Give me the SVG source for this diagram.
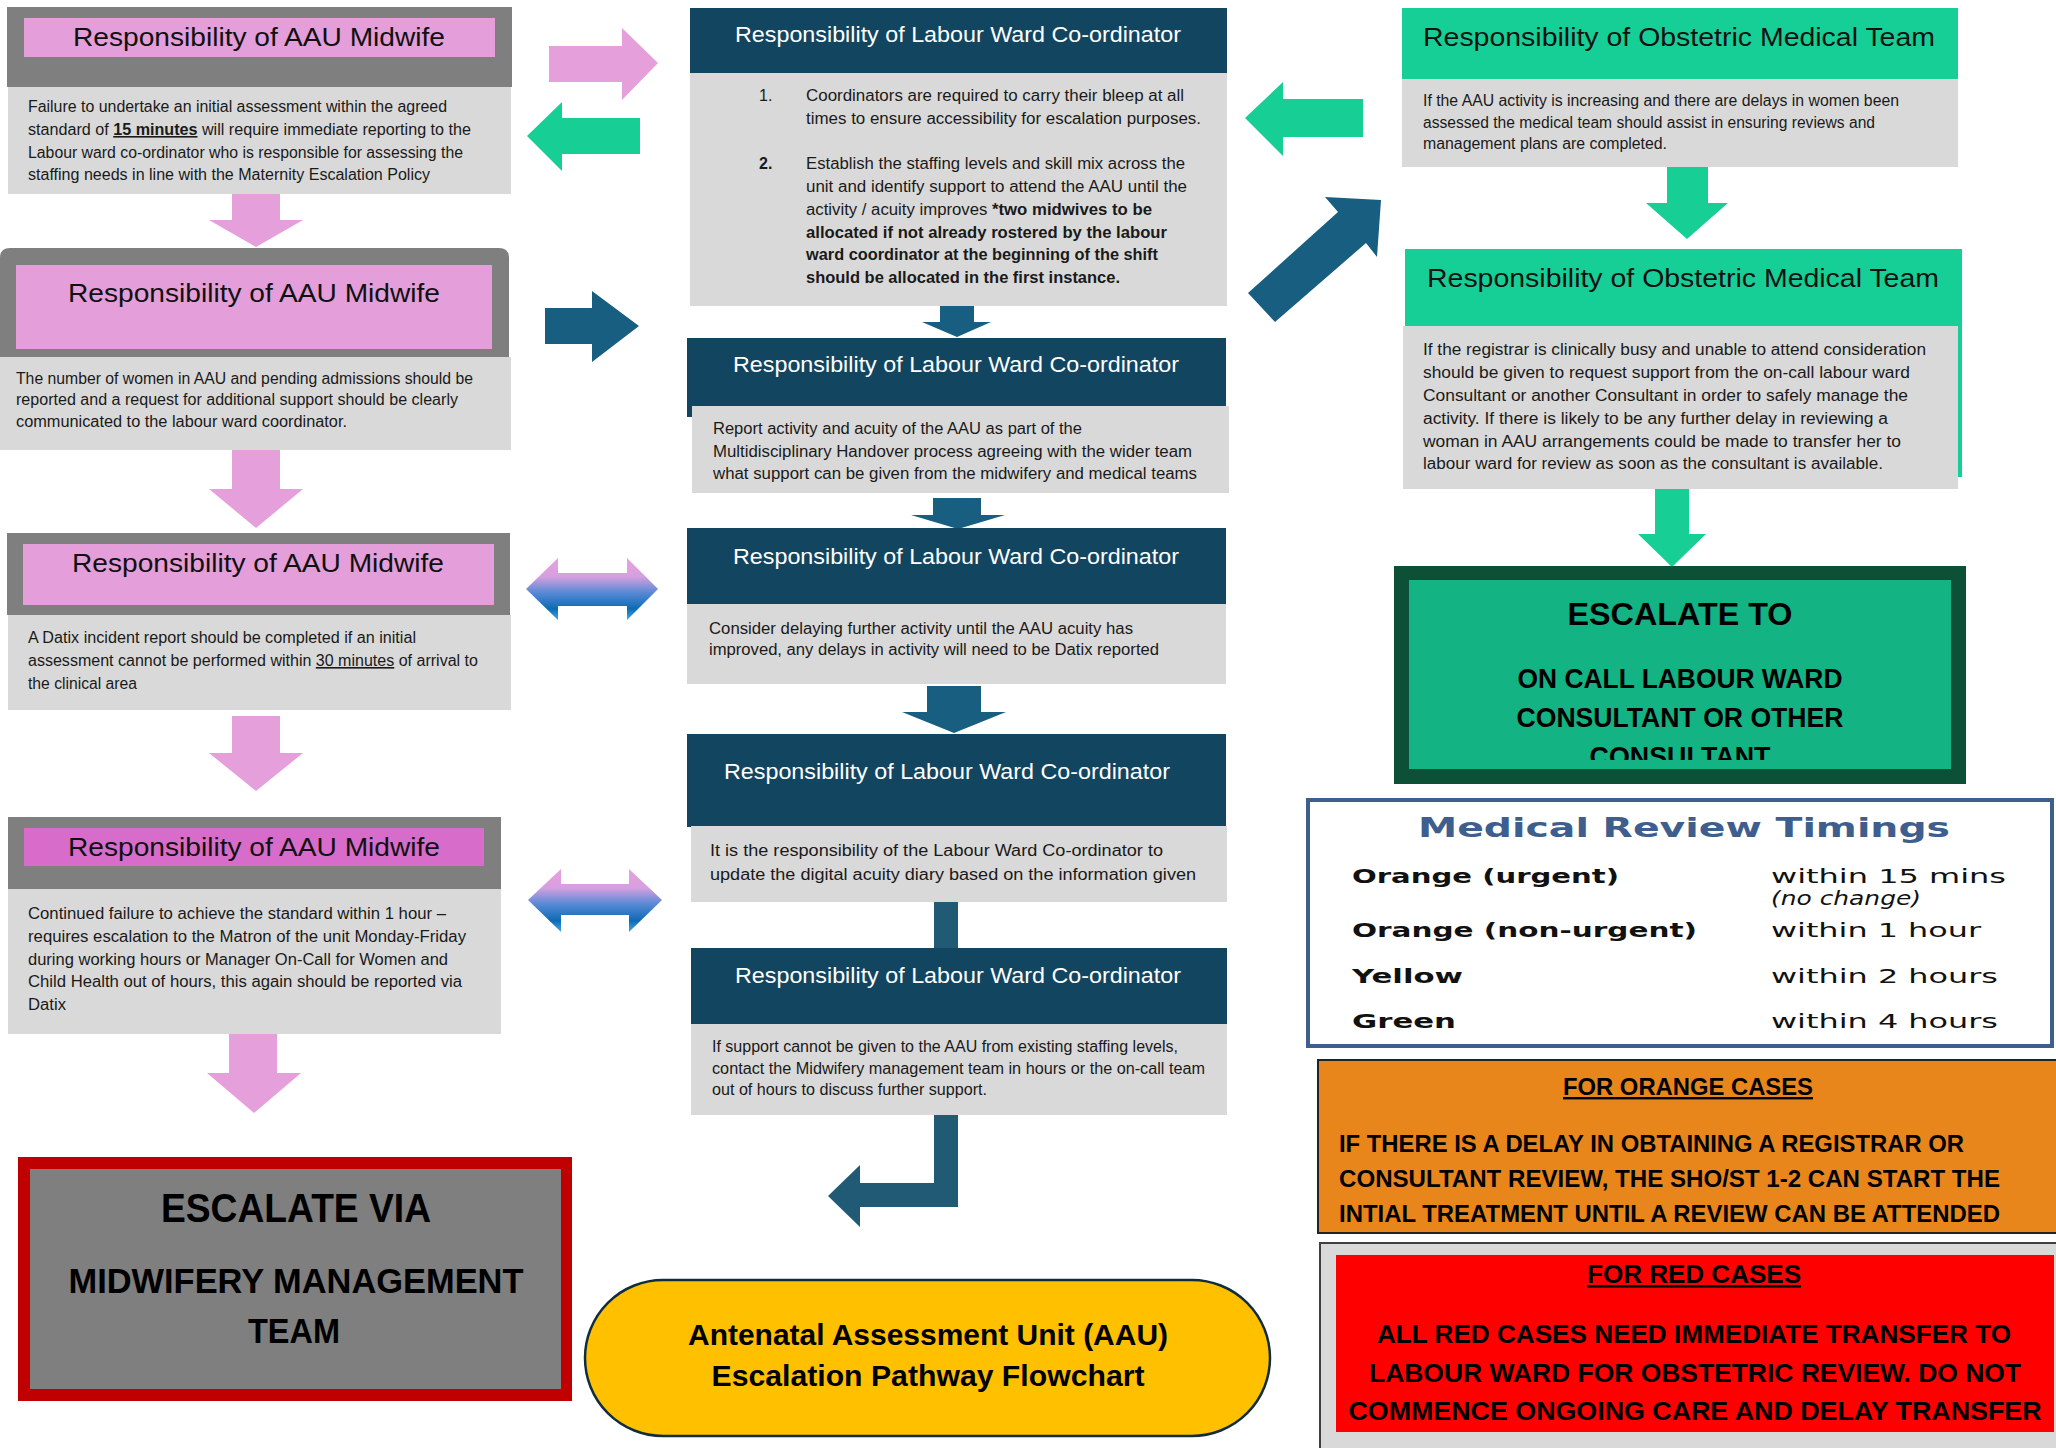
<svg xmlns="http://www.w3.org/2000/svg" width="2056" height="1448" viewBox="0 0 2056 1448">
<style>
.hdrgray{fill:#7f7f7f}
.pink{fill:#e49ed9}
.pink2{fill:#d86cca}
.body{fill:#d9d9d9}
.navy{fill:#12455f}
.obg{fill:#16cf96}
.tt{font-family:"Liberation Sans",Arial,sans-serif;font-size:26px;fill:#111}
.tm{font-family:"Liberation Sans",Arial,sans-serif;font-size:22px;fill:#fff}
.bx{font-family:"Liberation Sans",Arial,sans-serif;font-size:16px;fill:#1a1a1a}
.bd{font-weight:700}
.ul{text-decoration:underline}
.cap{font-family:"Liberation Sans",Arial,sans-serif;font-weight:700;fill:#000}
.mr{font-family:"DejaVu Sans","Liberation Sans",sans-serif;font-size:20px;fill:#111}
.apink{fill:#e59fdb}
.ablue{fill:#175e80}
.adark{fill:#215a75}
.agreen{fill:#17cf95}
</style>
<defs>
<linearGradient id="dbl" x1="0" y1="0" x2="0" y2="1">
<stop offset="0" stop-color="#eaa0dc"/>
<stop offset="0.3" stop-color="#d69fe0"/>
<stop offset="0.55" stop-color="#5b8ad6"/>
<stop offset="0.82" stop-color="#0c6bb4"/>
<stop offset="1" stop-color="#4aa6e6"/>
</linearGradient>
<clipPath id="escclip"><rect x="1409" y="580" width="542" height="180"/></clipPath>
</defs>
<rect width="2056" height="1448" fill="#fff"/>

<g id="connectors">
<polygon class="apink" points="549,46 622,46 622,28 658,63 622,100 622,82 549,82"/>
<polygon class="agreen" points="640,118 562,118 562,102 527,136 562,171 562,154 640,154"/>
<polygon class="ablue" points="545,308 592,308 592,291 639,326 592,362 592,344 545,344"/>
<polygon fill="url(#dbl)" points="526,589 558,558 558,573 627,573 627,558 658,589 627,620 627,606 558,606 558,620"/>
<polygon fill="url(#dbl)" points="528,900 561,869 561,884 629,884 629,869 662,900 629,932 629,915 561,915 561,932"/>
<polygon class="agreen" points="1363,99 1283,99 1283,82 1245,118 1283,156 1283,137 1363,137"/>
<polygon class="ablue" points="1248,293 1338,212 1325,197 1381,200 1377,257 1366,243 1275,322"/>
<polygon class="agreen" points="1667,167 1708,167 1708,203 1728,203 1687,239 1646,203 1667,203"/>
<polygon class="agreen" points="1655,483 1689,483 1689,534 1706,534 1672,567 1638,534 1655,534"/>
<polygon class="ablue" points="940,306 974,306 974,322 991,322 957,337 922,322 940,322"/>
<polygon class="ablue" points="933,498 981,498 981,515 1005,515 958,529 911,515 933,515"/>
<polygon class="ablue" points="927,686 981,686 981,712 1006,712 954,733 902,712 927,712"/>
<rect class="adark" x="934" y="902" width="24" height="46"/>
<polygon class="adark" points="934,1115 958,1115 958,1207 860,1207 860,1227 828,1196 860,1165 860,1183 934,1183"/>
<polygon class="apink" points="232,194 280,194 280,220 303,220 256,247 209,220 232,220"/>
<polygon class="apink" points="232,450 280,450 280,489 303,489 256,528 209,489 232,489"/>
<polygon class="apink" points="232,716 280,716 280,753 303,753 256,791 209,753 232,753"/>
<polygon class="apink" points="229,1034 277,1034 277,1073 301,1073 254,1113 207,1073 229,1073"/>
</g>

<g id="a1">
<rect class="hdrgray" x="7" y="7" width="505" height="80"/>
<rect class="pink" x="24" y="18" width="471" height="39"/>
<text class="tt" x="259" y="46" text-anchor="middle" textLength="372" lengthAdjust="spacingAndGlyphs">Responsibility of AAU Midwife</text>
<rect class="body" x="8" y="87" width="503" height="107"/>
<text class="bx" x="28" y="112" textLength="419" lengthAdjust="spacingAndGlyphs">Failure to undertake an initial assessment within the agreed</text>
<text class="bx" x="28" y="135" textLength="443" lengthAdjust="spacingAndGlyphs">standard of <tspan class="bd ul">15 minutes</tspan> will require immediate reporting to the</text>
<text class="bx" x="28" y="158" textLength="435" lengthAdjust="spacingAndGlyphs">Labour ward co-ordinator who is responsible for assessing the</text>
<text class="bx" x="28" y="180" textLength="402" lengthAdjust="spacingAndGlyphs">staffing needs in line with the Maternity Escalation Policy</text>
</g>

<g id="a2">
<path class="hdrgray" d="M0,258 Q0,248 10,248 L499,248 Q509,248 509,258 L509,357 L0,357 Z"/>
<rect class="pink" x="16" y="265" width="476" height="84"/>
<text class="tt" x="254" y="302" text-anchor="middle" textLength="372" lengthAdjust="spacingAndGlyphs">Responsibility of AAU Midwife</text>
<rect class="body" x="0" y="357" width="511" height="93"/>
<text class="bx" x="16" y="384" textLength="457" lengthAdjust="spacingAndGlyphs">The number of women in AAU and pending admissions should be</text>
<text class="bx" x="16" y="405" textLength="442" lengthAdjust="spacingAndGlyphs">reported and a request for additional support should be clearly</text>
<text class="bx" x="16" y="427" textLength="331" lengthAdjust="spacingAndGlyphs">communicated to the labour ward coordinator.</text>
</g>

<g id="a3">
<rect class="hdrgray" x="7" y="533" width="503" height="82"/>
<rect class="pink" x="23" y="544" width="471" height="61"/>
<text class="tt" x="258" y="572" text-anchor="middle" textLength="372" lengthAdjust="spacingAndGlyphs">Responsibility of AAU Midwife</text>
<rect class="body" x="8" y="615" width="503" height="95"/>
<text class="bx" x="28" y="643" textLength="388" lengthAdjust="spacingAndGlyphs">A Datix incident report should be completed if an initial</text>
<text class="bx" x="28" y="666" textLength="450" lengthAdjust="spacingAndGlyphs">assessment cannot be performed within <tspan class="ul">30 minutes</tspan> of arrival to</text>
<text class="bx" x="28" y="689" textLength="109" lengthAdjust="spacingAndGlyphs">the clinical area</text>
</g>

<g id="a4">
<rect class="hdrgray" x="8" y="817" width="493" height="72"/>
<rect class="pink2" x="24" y="828" width="460" height="38"/>
<text class="tt" x="254" y="856" text-anchor="middle" textLength="372" lengthAdjust="spacingAndGlyphs">Responsibility of AAU Midwife</text>
<rect class="body" x="8" y="889" width="493" height="145"/>
<text class="bx" x="28" y="919" textLength="418" lengthAdjust="spacingAndGlyphs">Continued failure to achieve the standard within 1 hour –</text>
<text class="bx" x="28" y="942" textLength="438" lengthAdjust="spacingAndGlyphs">requires escalation to the Matron of the unit Monday-Friday</text>
<text class="bx" x="28" y="965" textLength="420" lengthAdjust="spacingAndGlyphs">during working hours or Manager On-Call for Women and</text>
<text class="bx" x="28" y="987" textLength="434" lengthAdjust="spacingAndGlyphs">Child Health out of hours, this again should be reported via</text>
<text class="bx" x="28" y="1010" textLength="38" lengthAdjust="spacingAndGlyphs">Datix</text>
</g>

<g id="escalate-via">
<rect x="18" y="1157" width="554" height="244" fill="#c00000"/>
<rect x="30" y="1169" width="531" height="220" fill="#7f7f7f"/>
<text class="cap" x="296" y="1222" font-size="40" text-anchor="middle" textLength="270" lengthAdjust="spacingAndGlyphs">ESCALATE VIA</text>
<text class="cap" x="296" y="1293" font-size="35" text-anchor="middle" textLength="455" lengthAdjust="spacingAndGlyphs">MIDWIFERY MANAGEMENT</text>
<text class="cap" x="294" y="1343" font-size="35" text-anchor="middle" textLength="92" lengthAdjust="spacingAndGlyphs">TEAM</text>
</g>

<g id="c1">
<rect class="navy" x="690" y="8" width="537" height="65"/>
<text class="tm" x="958" y="42" text-anchor="middle" textLength="446" lengthAdjust="spacingAndGlyphs">Responsibility of Labour Ward Co-ordinator</text>
<rect class="body" x="690" y="73" width="537" height="233"/>
<text class="bx" x="759" y="101">1.</text>
<text class="bx" x="806" y="101" textLength="378" lengthAdjust="spacingAndGlyphs">Coordinators are required to carry their bleep  at all</text>
<text class="bx" x="806" y="124" textLength="395" lengthAdjust="spacingAndGlyphs">times to ensure accessibility for escalation purposes.</text>
<text class="bx bd" x="759" y="169">2.</text>
<text class="bx" x="806" y="169" textLength="379" lengthAdjust="spacingAndGlyphs">Establish the staffing levels and skill mix across the</text>
<text class="bx" x="806" y="192" textLength="381" lengthAdjust="spacingAndGlyphs">unit and identify support to attend the AAU until the</text>
<text class="bx" x="806" y="215" textLength="346" lengthAdjust="spacingAndGlyphs">activity / acuity improves <tspan class="bd">*two midwives to be</tspan></text>
<text class="bx bd" x="806" y="238" textLength="361" lengthAdjust="spacingAndGlyphs">allocated if not already rostered  by the labour</text>
<text class="bx bd" x="806" y="260" textLength="352" lengthAdjust="spacingAndGlyphs">ward coordinator at the beginning of the shift</text>
<text class="bx bd" x="806" y="283" textLength="314" lengthAdjust="spacingAndGlyphs">should be allocated in the first instance.</text>
</g>

<g id="c2">
<rect class="navy" x="687" y="338" width="539" height="79"/>
<text class="tm" x="956" y="372" text-anchor="middle" textLength="446" lengthAdjust="spacingAndGlyphs">Responsibility of Labour Ward Co-ordinator</text>
<rect class="body" x="692" y="406" width="537" height="87"/>
<text class="bx" x="713" y="434" textLength="369" lengthAdjust="spacingAndGlyphs">Report activity and acuity of the AAU as part of the</text>
<text class="bx" x="713" y="457" textLength="479" lengthAdjust="spacingAndGlyphs">Multidisciplinary Handover process agreeing with the wider team</text>
<text class="bx" x="713" y="479" textLength="484" lengthAdjust="spacingAndGlyphs">what support can be given from the midwifery and medical teams</text>
</g>

<g id="c3">
<rect class="navy" x="687" y="528" width="539" height="77"/>
<text class="tm" x="956" y="564" text-anchor="middle" textLength="446" lengthAdjust="spacingAndGlyphs">Responsibility of Labour Ward Co-ordinator</text>
<rect class="body" x="687" y="604" width="539" height="80"/>
<text class="bx" x="709" y="634" textLength="424" lengthAdjust="spacingAndGlyphs">Consider delaying further activity until the AAU acuity has</text>
<text class="bx" x="709" y="655" textLength="450" lengthAdjust="spacingAndGlyphs">improved, any delays in activity will need to be Datix reported</text>
</g>

<g id="c4">
<rect class="navy" x="687" y="734" width="539" height="93"/>
<text class="tm" x="947" y="779" text-anchor="middle" textLength="446" lengthAdjust="spacingAndGlyphs">Responsibility of Labour Ward Co-ordinator</text>
<rect class="body" x="691" y="826" width="536" height="76"/>
<text class="bx" x="710" y="856" textLength="453" lengthAdjust="spacingAndGlyphs">It is the responsibility of the Labour Ward Co-ordinator to</text>
<text class="bx" x="710" y="880" textLength="486" lengthAdjust="spacingAndGlyphs">update the digital acuity diary based on the information given</text>
</g>

<g id="c5">
<rect class="navy" x="691" y="948" width="536" height="76"/>
<text class="tm" x="958" y="983" text-anchor="middle" textLength="446" lengthAdjust="spacingAndGlyphs">Responsibility of Labour Ward Co-ordinator</text>
<rect class="body" x="691" y="1024" width="536" height="91"/>
<text class="bx" x="712" y="1052" textLength="466" lengthAdjust="spacingAndGlyphs">If support cannot be given to the AAU from existing staffing levels,</text>
<text class="bx" x="712" y="1074" textLength="493" lengthAdjust="spacingAndGlyphs">contact the Midwifery management team in hours or the on-call team</text>
<text class="bx" x="712" y="1095" textLength="275" lengthAdjust="spacingAndGlyphs">out of hours to discuss further support.</text>
</g>

<g id="title">
<rect x="585" y="1280" width="685" height="156" rx="78" ry="78" fill="#ffc000" stroke="#0f2d3f" stroke-width="2.5"/>
<text class="cap" x="928" y="1345" font-size="29" text-anchor="middle" textLength="480" lengthAdjust="spacingAndGlyphs">Antenatal Assessment Unit (AAU)</text>
<text class="cap" x="928" y="1386" font-size="29" text-anchor="middle" textLength="433" lengthAdjust="spacingAndGlyphs">Escalation Pathway Flowchart</text>
</g>

<g id="ob1">
<rect class="obg" x="1402" y="8" width="556" height="71"/>
<text class="tt" x="1679" y="46" font-size="27" text-anchor="middle" textLength="512" lengthAdjust="spacingAndGlyphs">Responsibility of Obstetric Medical Team</text>
<rect class="body" x="1402" y="79" width="556" height="88"/>
<text class="bx" x="1423" y="106" textLength="476" lengthAdjust="spacingAndGlyphs">If the AAU activity is increasing and there are delays in women been</text>
<text class="bx" x="1423" y="128" textLength="452" lengthAdjust="spacingAndGlyphs">assessed the medical team should assist in ensuring reviews and</text>
<text class="bx" x="1423" y="149" textLength="244" lengthAdjust="spacingAndGlyphs">management plans are completed.</text>
</g>

<g id="ob2">
<rect class="obg" x="1405" y="249" width="557" height="228"/>
<rect class="body" x="1403" y="326" width="555" height="163"/>
<text class="tt" x="1683" y="287" font-size="27" text-anchor="middle" textLength="512" lengthAdjust="spacingAndGlyphs">Responsibility of Obstetric Medical Team</text>
<text class="bx" x="1423" y="355" textLength="503" lengthAdjust="spacingAndGlyphs">If the registrar is clinically busy and unable to attend consideration</text>
<text class="bx" x="1423" y="378" textLength="487" lengthAdjust="spacingAndGlyphs">should be given to request support from the on-call labour ward</text>
<text class="bx" x="1423" y="401" textLength="485" lengthAdjust="spacingAndGlyphs">Consultant or another Consultant in order to safely  manage the</text>
<text class="bx" x="1423" y="424" textLength="465" lengthAdjust="spacingAndGlyphs">activity. If there is likely to be any further delay in reviewing a</text>
<text class="bx" x="1423" y="447" textLength="478" lengthAdjust="spacingAndGlyphs">woman in AAU arrangements could be made  to transfer her to</text>
<text class="bx" x="1423" y="469" textLength="460" lengthAdjust="spacingAndGlyphs">labour ward for review as soon as the consultant is available.</text>
</g>

<g id="escalate-to">
<rect x="1394" y="566" width="572" height="218" fill="#0b5037"/>
<rect x="1409" y="580" width="542" height="189" fill="#13b383"/>
<text class="cap" x="1680" y="625" font-size="32" text-anchor="middle" textLength="225" lengthAdjust="spacingAndGlyphs">ESCALATE TO</text>
<text class="cap" x="1680" y="688" font-size="27" text-anchor="middle" textLength="325" lengthAdjust="spacingAndGlyphs">ON CALL LABOUR WARD</text>
<text class="cap" x="1680" y="727" font-size="27" text-anchor="middle" textLength="327" lengthAdjust="spacingAndGlyphs">CONSULTANT OR OTHER</text>
<g clip-path="url(#escclip)"><text class="cap" x="1680" y="766" font-size="27" text-anchor="middle" textLength="181" lengthAdjust="spacingAndGlyphs">CONSULTANT</text></g>
</g>

<g id="medical-review">
<rect x="1308" y="800" width="744" height="246" fill="#fff" stroke="#3e5f8d" stroke-width="4"/>
<text x="1684" y="837" font-family="'DejaVu Sans','Liberation Sans',sans-serif" font-size="26" font-weight="700" fill="#3e5f8d" text-anchor="middle" textLength="532" lengthAdjust="spacingAndGlyphs">Medical Review Timings</text>
<text class="mr bd" x="1352" y="883" textLength="267" lengthAdjust="spacingAndGlyphs">Orange (urgent)</text>
<text class="mr" x="1771" y="883" textLength="235" lengthAdjust="spacingAndGlyphs">within 15 mins</text>
<text class="mr" x="1771" y="905" font-size="13" font-style="italic" textLength="150" lengthAdjust="spacingAndGlyphs">(no change)</text>
<text class="mr bd" x="1352" y="937" textLength="345" lengthAdjust="spacingAndGlyphs">Orange (non-urgent)</text>
<text class="mr" x="1771" y="937" textLength="210" lengthAdjust="spacingAndGlyphs">within 1 hour</text>
<text class="mr bd" x="1352" y="983" textLength="111" lengthAdjust="spacingAndGlyphs">Yellow</text>
<text class="mr" x="1771" y="983" textLength="227" lengthAdjust="spacingAndGlyphs">within 2 hours</text>
<text class="mr bd" x="1352" y="1028" textLength="104" lengthAdjust="spacingAndGlyphs">Green</text>
<text class="mr" x="1771" y="1028" textLength="227" lengthAdjust="spacingAndGlyphs">within 4 hours</text>
</g>

<g id="orange-cases">
<rect x="1318" y="1060" width="745" height="173" fill="#e8861c" stroke="#222" stroke-width="2"/>
<text class="cap ul" x="1688" y="1095" font-size="24" text-anchor="middle" textLength="250" lengthAdjust="spacingAndGlyphs">FOR ORANGE CASES</text>
<text class="cap" x="1339" y="1152" font-size="24" textLength="625" lengthAdjust="spacingAndGlyphs">IF THERE IS A DELAY IN OBTAINING A REGISTRAR OR</text>
<text class="cap" x="1339" y="1187" font-size="24" textLength="661" lengthAdjust="spacingAndGlyphs">CONSULTANT REVIEW, THE SHO/ST 1-2 CAN START THE</text>
<text class="cap" x="1339" y="1222" font-size="24" textLength="661" lengthAdjust="spacingAndGlyphs">INTIAL TREATMENT UNTIL A REVIEW CAN BE ATTENDED</text>
</g>

<g id="red-cases">
<rect x="1320" y="1243" width="745" height="215" fill="#d9d9d9" stroke="#404040" stroke-width="2"/>
<rect x="1336" y="1255" width="718" height="177" fill="#ff0000"/>
<text class="cap ul" x="1694" y="1283" font-size="26" text-anchor="middle" textLength="214" lengthAdjust="spacingAndGlyphs">FOR RED CASES</text>
<text class="cap" x="1694" y="1343" font-size="26" text-anchor="middle" textLength="634" lengthAdjust="spacingAndGlyphs">ALL RED CASES NEED IMMEDIATE TRANSFER TO</text>
<text class="cap" x="1695" y="1382" font-size="26" text-anchor="middle" textLength="652" lengthAdjust="spacingAndGlyphs">LABOUR WARD FOR OBSTETRIC REVIEW. DO NOT</text>
<text class="cap" x="1695" y="1420" font-size="26" text-anchor="middle" textLength="693" lengthAdjust="spacingAndGlyphs">COMMENCE ONGOING CARE AND DELAY TRANSFER</text>
</g>
</svg>
